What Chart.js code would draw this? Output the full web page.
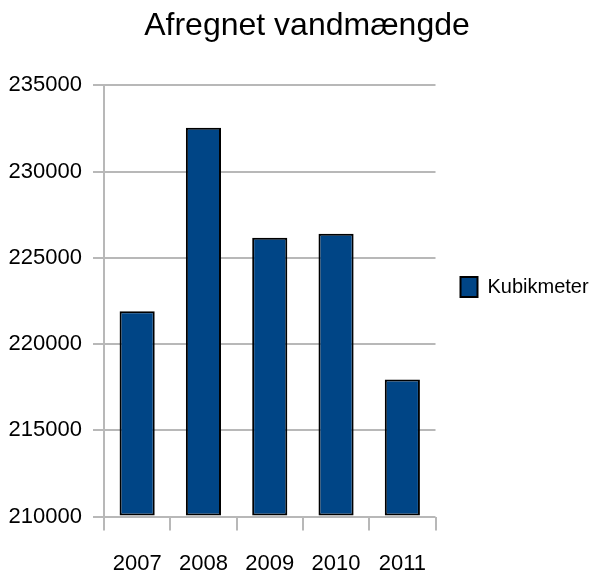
<!DOCTYPE html>
<html>
<head>
<meta charset="utf-8">
<script src="https://cdn.jsdelivr.net/npm/chart.js@4"></script>
<style>
html, body { margin: 0; padding: 0; background: #fff; }
</style>
</head>
<body>
<canvas id="chart" width="594" height="574"></canvas>
<script>
const years = ['2007', '2008', '2009', '2010', '2011'];
const kubikmeter = [221900, 232550, 226170, 226390, 217940];
const yMin = 210000;
const yMax = 235000;
const yStep = 5000;

const gridGrey = '#b8b8b8';
const barBlue = '#004586';

Chart.defaults.color = '#000';
Chart.defaults.font.family = '"Liberation Sans", Arial, sans-serif';

// the original title sits right of centre, and the legend text runs
// further right than chart.js lets a right legend grow
const nudgeBoxes = {
    id: 'nudgeBoxes',
    afterLayout(chart) {
        chart.titleBlock.left += 28;
        chart.legend.right = chart.width;
    }
};

const ctx = document.getElementById('chart').getContext('2d');
const chart = new Chart(ctx, {
    type: 'bar',
    data: {
        labels: years,
        datasets: [{
            label: 'Kubikmeter',
            data: kubikmeter,
            base: yMin,
            backgroundColor: barBlue,
            borderColor: '#000',
            borderWidth: 2,
            borderSkipped: false,
            barPercentage: 0.53,
            categoryPercentage: 1
        }]
    },
    plugins: [nudgeBoxes],
    options: {
        responsive: false,
        animation: false,
        layout: { padding: { left: 8, right: 16, top: 0, bottom: 0 } },
        plugins: {
            title: {
                display: true,
                text: 'Afregnet vandmængde',
                font: { size: 32, weight: 'normal' },
                padding: { top: 7, bottom: 40 }
            },
            legend: {
                position: 'right',
                labels: {
                    boxWidth: 17,
                    boxHeight: 20,
                    padding: 25,
                    font: { size: 20 }
                }
            },
            tooltip: { enabled: false }
        },
        scales: {
            x: {
                offset: true,
                grid: {
                    offset: true,
                    color: c => (c.index === 0 || c.index === years.length) ? gridGrey : 'transparent',
                    tickColor: gridGrey,
                    tickLength: 14,
                    lineWidth: 2
                },
                border: { display: false },
                ticks: { font: { size: 22 }, padding: 20 },
                afterFit: scale => { scale.height = 57.5; }
            },
            y: {
                min: yMin,
                max: yMax,
                ticks: {
                    stepSize: yStep,
                    font: { size: 22 },
                    padding: 11,
                    callback: v => String(v)
                },
                grid: { color: gridGrey, tickLength: 11, lineWidth: 2 },
                border: { display: false },
                afterFit: scale => { scale.width = 96; }
            }
        }
    }
});
</script>
</body>
</html>
